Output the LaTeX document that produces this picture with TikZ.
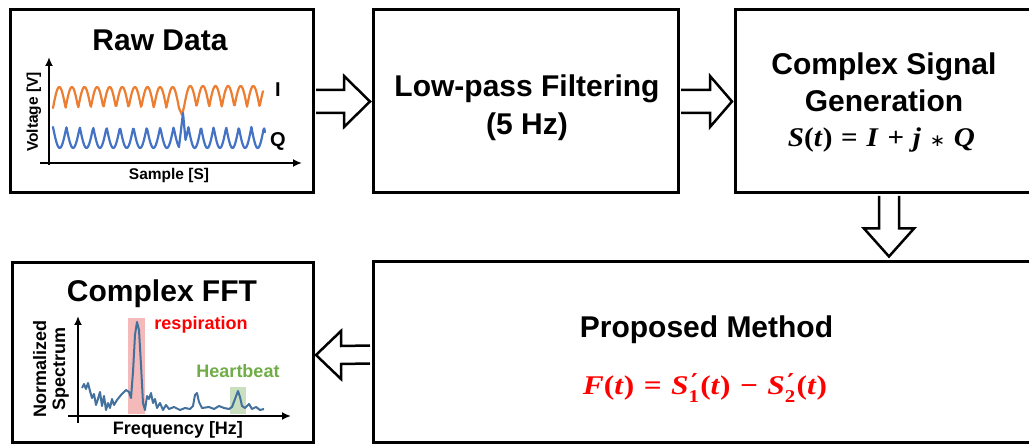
\documentclass[tikz,border=0pt]{standalone}
\usepackage{graphicx}
\usepackage{fontspec}
\setmainfont{Liberation Sans}
\newfontfamily\eqfont{Liberation Serif}
\newfontfamily\symfont{DejaVu Sans}
\usetikzlibrary{arrows.meta,calc}
\definecolor{sigorange}{HTML}{ED7D31}
\definecolor{sigblue}{HTML}{4472C4}
\definecolor{specblue}{HTML}{41719C}
\definecolor{resppink}{HTML}{F4B9B9}
\definecolor{heartgreen}{HTML}{70AD47}
\definecolor{heartbg}{HTML}{CADFBF}
\definecolor{eqred}{HTML}{FF0000}
\newcommand{\vv}[1]{\textit{#1}}
\newcommand{\opsp}{\hspace{0.3em}}
\newcommand{\primesub}[1]{\makebox[0pt][l]{\raisebox{0.22em}{\kern0.08em\symfont\fontsize{22}{22}\selectfont ′}}\raisebox{-0.28em}{\upshape\fontsize{18}{18}\selectfont #1}\kern0.04em}
\begin{document}
\begin{tikzpicture}[x=1pt,y=-1pt,
  box/.style={draw=black, line width=3pt, inner sep=0pt},
  barrow/.style={draw=black, line width=2.5pt, fill=white, line join=miter},
  title/.style={font=\bfseries\fontsize{30}{36}\selectfont, inner sep=0pt, anchor=base},
  small/.style={font=\bfseries\fontsize{15.5}{18}\selectfont, inner sep=0pt},
  mid/.style={font=\bfseries\fontsize{18}{21}\selectfont, inner sep=0pt},
  axis/.style={line width=2pt, -{Latex[length=9pt,width=8pt]}},
  sig/.style={line width=2.2pt, line join=round, line cap=round},
  eqstyle/.style={font=\eqfont\bfseries\fontsize{27}{30}\selectfont, inner sep=0pt, anchor=base}]
\clip (0,0) rectangle (1029,446);
\fill[white] (0,0) rectangle (1029,446);

% boxes
\node[box, minimum width=303pt, minimum height=183pt] (raw) at (161.5,101.5) {};
\node[box, minimum width=305pt, minimum height=183pt] (lpf) at (525.5,101.5) {};
\node[box, minimum width=300pt, minimum height=183pt] (csg) at (885,101.5) {};
\node[box, minimum width=672pt, minimum height=181pt] (pm) at (709,352.5) {};
\node[box, minimum width=301pt, minimum height=180pt] (fft) at (162.5,353) {};

% block arrows
\draw[barrow] ($(raw.east)+(1.5,-11.5)$) -- ($(lpf.west)+(-27.5,-11.5)$) -- ($(lpf.west)+(-27.5,-25.5)$)
  -- ($(lpf.west)+(-1.5,0)$) -- ($(lpf.west)+(-27.5,25.5)$) -- ($(lpf.west)+(-27.5,11.5)$) -- ($(raw.east)+(1.5,11.5)$);
\draw[barrow] ($(lpf.east)+(1.5,-11.5)$) -- ($(csg.west)+(-23.5,-11.5)$) -- ($(csg.west)+(-23.5,-25.5)$)
  -- ($(csg.west)+(-1.5,0)$) -- ($(csg.west)+(-23.5,25.5)$) -- ($(csg.west)+(-23.5,11.5)$) -- ($(lpf.east)+(1.5,11.5)$);
\coordinate (dtip) at ($(csg.south)+(4,62)$);
\draw[barrow] ($(csg.south)+(-6,1.5)$) -- ($(dtip)+(-10,-28)$) -- ($(dtip)+(-25,-28)$) -- (dtip)
  -- ($(dtip)+(25,-28)$) -- ($(dtip)+(10,-28)$) -- ($(csg.south)+(14,1.5)$);
\coordinate (ltip) at ($(fft.east)+(1.5,2)$);
\draw[barrow] ($(pm.west)+(-1.5,-7)$) -- ($(ltip)+(25,-9)$) -- ($(ltip)+(25,-24)$) -- (ltip)
  -- ($(ltip)+(25,24)$) -- ($(ltip)+(25,9)$) -- ($(pm.west)+(-1.5,11)$);

% titles
\node[title] (t1) at (160,51) {Raw Data};
\node[title] (t2) at (527,97) {Low-pass Filtering};
\node[title] (t2b) at (527,135) {(5 Hz)};
\node[title] (t3) at (884,75) {Complex Signal};
\node[title] (t3b) at (884,112) {Generation};
\node[eqstyle] (eqa) at (881.5,147) {\resizebox{187pt}{\height}{\vv{S}(\vv{t})\opsp=\opsp\vv{I}\opsp+\opsp\vv{j}\opsp{\symfont\mdseries\fontsize{17}{17}\selectfont ∗}\opsp\vv{Q}}};
\node[title] (t4) at (706.5,338) {Proposed Method};
\node[eqstyle, text=eqred] (eqb) at (705,395) {\resizebox{244pt}{\height}{\vv{F}(\vv{t})\opsp=\opsp\vv{S}\primesub{1}(\vv{t})\opsp−\opsp\vv{S}\primesub{2}(\vv{t})}};
\node[title] (t5) at (162,302) {Complex FFT};

% raw data plot
\draw[axis] (49,165) -- (49,57);
\draw[axis] (40,163) -- (302,163);
\node[small, rotate=90] (vl) at (34,112) {Voltage [V]};
\node[small] (sl) at (169,175) {Sample [S]};
\draw[sig, sigorange] plot[domain=53:179, samples=160] (\x,{108-21*abs(sin((\x-53)/12.6*180))})
  -- (182,115) -- plot[domain=184:263, samples=110] (\x,{107-21*abs(sin((\x-184)/12.6*180))});
\draw[sig, sigblue] plot[domain=53:179, samples=160] (\x,{127+21*abs(sin((\x-53)/13.4*180))})
  -- (183,113) -- (185.5,140) -- plot[domain=187:265, samples=110] (\x,{127+21*abs(sin((\x-187)/12.6*180-20))});
\node[font=\bfseries\fontsize{20}{24}\selectfont, inner sep=0pt] (il) at (278,90) {I};
\node[font=\bfseries\fontsize{20}{24}\selectfont, inner sep=0pt] (ql) at (278,141) {Q};

% fft plot
\fill[resppink] (128,318) rectangle (145,414);
\fill[heartbg] (230,387) rectangle (246,414);
\draw[line width=2pt, specblue, line join=round] plot coordinates {
(82,388) (84,384) (86,389) (88,383) (90,391) (92,398) (94,394) (96,405) (98,399) (100,392) (102,406)
(104,396) (106,410) (108,403) (110,408) (112,399) (114,405) (117,400) (121,395) (126,390) (129,392)
(131,398) (133,372) (135,335) (137,322) (139,330) (141,365) (143,403) (145,410) (147,396) (149,399)
(151,393) (153,403) (155,399) (157,408) (160,403) (163,410) (166,405) (169,409) (174,407) (180,410)
(185,408) (190,409) (193,406) (195,395) (197,393) (199,402) (202,408) (209,407) (214,409) (219,406)
(224,408) (229,409) (232,407) (235,399) (238,391) (240,397) (242,406) (245,408) (249,404) (252,409)
(256,407) (260,410) (264,409)};
\draw[axis] (78,423) -- (78,316);
\draw[axis] (68,416) -- (291,416);
\node[mid, rotate=90, align=center] (ns) at (51,369) {Normalized\\[-2pt]Spectrum};
\node[mid] (fl) at (178,430) {Frequency [Hz]};
\node[mid, text=eqred] (rl) at (201,325) {respiration};
\node[mid, text=heartgreen] (hl) at (238,371) {Heartbeat};
\end{tikzpicture}
\end{document}
